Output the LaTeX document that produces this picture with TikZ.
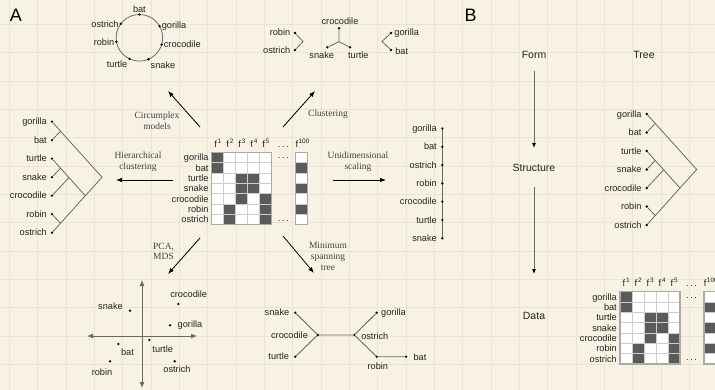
\documentclass[tikz,border=0pt]{standalone}
\usepackage{fontspec}
\setmainfont{Liberation Sans}
\newfontfamily\notefont{Liberation Serif}
\usetikzlibrary{arrows.meta,backgrounds}
\definecolor{paper}{RGB}{248,242,229}
\definecolor{paperrule}{RGB}{236,228,211}
\definecolor{ink}{RGB}{35,35,35}
\definecolor{twig}{RGB}{105,105,105}
\definecolor{cellfill}{RGB}{90,90,90}
\definecolor{cellline}{RGB}{205,205,205}
\definecolor{cellframe}{RGB}{170,170,170}
\begin{document}
\begin{tikzpicture}[x=1pt,y=-1pt,
  lab/.style={font=\fontsize{9.2}{11}\selectfont,text=ink,inner sep=1pt},
  head/.style={font=\fontsize{10.5}{12}\selectfont,text=ink,inner sep=1pt},
  panel/.style={font=\fontsize{18}{20}\selectfont,text=black,inner sep=0pt},
  note/.style={font=\notefont\fontsize{9.5}{10.6}\selectfont,text=ink!85,align=center,inner sep=0pt},
  dot/.style={circle,fill=black,inner sep=0pt,minimum size=2.6pt},
  twig/.style={draw=twig,line width=0.8pt},
  arr/.style={-{Latex[length=6pt,width=4.5pt]},line width=0.8pt},
  axis/.style={{Latex[length=6pt,width=5pt]}-{Latex[length=6pt,width=5pt]},draw=twig,line width=1pt},
  flow/.style={-{Latex[length=5pt,width=4pt,color=black]},draw=twig,line width=1pt},
  featmat/.pic={
    \fill[white] (0,0) rectangle (60,72.45) (84,0) rectangle (96,72.45);
    \foreach \r/\cs in {0/{0},1/{0},2/{2,3},3/{2,3},4/{2,4},5/{1,4},6/{1,4}}
      \foreach \c in \cs \fill[cellfill] (\c*12,\r*10.35) rectangle ++(12,10.35);
    \foreach \r in {1,3,5} \fill[cellfill] (84,\r*10.35) rectangle ++(12,10.35);
    \foreach \i in {1,...,4} \draw[cellline,line width=0.9pt] (\i*12,0) -- (\i*12,72.45);
    \foreach \j in {1,...,6} \draw[cellline,line width=0.9pt] (0,\j*10.35) -- (60,\j*10.35) (84,\j*10.35) -- (96,\j*10.35);
    \draw[cellframe,line width=1.4pt] (0,0) rectangle (60,72.45) (84,0) rectangle (96,72.45);
    \foreach \n [count=\r from 0] in {gorilla,bat,turtle,snake,crocodile,robin,ostrich}
      \node[lab,anchor=base east] (-\n) at (-2,\r*10.35+8.4) {\n};
    \foreach \c in {1,...,5} \node[lab,anchor=base] (-f\c) at (\c*12-5.5,-5) {f\kern0.9pt\textsuperscript{\c}};
    \node[lab,anchor=base] (-f100) at (91,-5) {f\kern0.6pt\textsuperscript{100}};
    \node[lab,anchor=base] (-fdots) at (71.6,-5) {.\,.\,.};
    \node[lab,anchor=base] (-tdots) at (71.6,6.7) {.\,.\,.};
    \node[lab,anchor=base] (-bdots) at (71.6,68.8) {.\,.\,.};
  },
  hiertree/.pic={
    \foreach \n [count=\i from 0] in {gorilla,bat,turtle,snake,crocodile,robin,ostrich}{
      \node[dot] (-\n) at (0,\i*18.5) {};
      \node[lab,anchor=base east] (-\n-t) at (-4,\i*18.5+3.2) {\n};
    }
    \coordinate (-root) at (50,55.5);
    \coordinate (-j1) at (8.5,9.4);
    \coordinate (-j2) at (8.5,46.4);
    \coordinate (-j3) at (17,55.9);
    \coordinate (-j4) at (33.3,74);
    \coordinate (-j5) at (8.5,101.6);
    \draw[twig] (-gorilla) -- (-root) -- (-ostrich);
    \draw[twig] (-bat) -- (-j1) (-turtle) -- (-j4) (-snake) -- (-j2) (-crocodile) -- (-j3) (-robin) -- (-j5);
  }]
\useasboundingbox (0,0) rectangle (715,390);
\clip (0,0) rectangle (715,390);
\begin{scope}[on background layer]
  \fill[paper] (0,0) rectangle (715,390);
  \foreach \i in {0,...,25} \draw[paperrule,line width=0.5pt] (9.3+\i*28.33,0) -- ++(0,390);
  \foreach \j in {0,...,13} \draw[paperrule,line width=0.5pt] (0,24.3+\j*28.33) -- ++(715,0);
\end{scope}

\node[panel] (pa) at (16,15.7) {A};
\node[panel] (pb) at (470.5,15.5) {B};

\pic (ma) at (211.7,152.3) {featmat};
\pic (mb) at (620,291.7) {featmat};
\pic (ta) at (52,121.7) {hiertree};
\pic (tb) at (646.7,114) {hiertree};

\node[circle,draw=twig,line width=0.8pt,minimum size=46.6pt,inner sep=0pt,outer sep=0pt] (ring) at (139.4,37.8) {};
\foreach \a/\n/\an in {90/bat/south,30/gorilla/west,-17/crocodile/west,-67/snake/north west,-115/turtle/north east,190/robin/east,143/ostrich/east}{
  \node[dot] (c-\n) at (ring.\a) {};
  \node[lab,anchor=\an,inner sep=2pt] (c-\n-t) at (c-\n) {\n};
}

\foreach \n/\dx/\dy/\lx/\ly in {robin/295/33/280/35.2,ostrich/295/50/276.7/53.2,crocodile/339/28.3/340/25,snake/327.3/47.3/321.7/59,turtle/350/47.3/358.3/59,gorilla/391/33/406.7/35.2,bat/391/50/401.7/54.2}{
  \node[dot] (k-\n) at (\dx,\dy) {};
  \node[lab,anchor=base] (k-\n-t) at (\lx,\ly) {\n};
}
\coordinate (k-ro) at (303,41.5);
\coordinate (k-mid) at (339,41.7);
\coordinate (k-gb) at (382,41.5);
\draw[twig] (k-robin) -- (k-ro) -- (k-ostrich);
\draw[twig] (k-crocodile) -- (k-mid) (k-snake) -- (k-mid) -- (k-turtle);
\draw[twig] (k-gorilla) -- (k-gb) -- (k-bat);

\foreach \n [count=\i from 0] in {gorilla,bat,ostrich,robin,crocodile,turtle,snake}{
  \node[dot] (u-\n) at (442.3,128.5+\i*18.3) {};
  \node[lab,anchor=base east] (u-\n-t) at (438,131.7+\i*18.3) {\n};
}
\begin{scope}[on background layer]
  \draw[twig,line width=1pt] (u-gorilla.center) -- (u-snake.center);
\end{scope}

\coordinate (p-w) at (87,336);
\coordinate (p-e) at (197,336);
\coordinate (p-n) at (142,280);
\coordinate (p-s) at (142,388);
\draw[axis] (p-w) -- (p-e);
\draw[axis] (p-n) -- (p-s);
\foreach \n/\dx/\dy/\lx/\ly in {snake/130/310.7/110.5/309,crocodile/178.3/304/188.7/298,gorilla/170/325.3/190/327,bat/118.3/344/127.5/355,turtle/149.3/340/162.7/352,robin/110/361.3/102/375,ostrich/174.7/361.3/177/372.5}{
  \node[dot] (p-\n) at (\dx,\dy) {};
  \node[lab,anchor=base] (p-\n-t) at (\lx,\ly) {\n};
}

\foreach \n/\dx/\dy/\lx/\ly in {snake/295.3/312.7/277/315.3,crocodile/317.7/335/289.5/338,turtle/295.3/356.7/278.7/359.7,ostrich/354.3/335/374.8/339,gorilla/376.7/312.7/393.5/315,robin/376.7/356.7/377.8/369,bat/406/356.7/420/360}{
  \node[dot] (s-\n) at (\dx,\dy) {};
  \node[lab,anchor=base] (s-\n-t) at (\lx,\ly) {\n};
}
\draw[twig,line width=0.9pt] (s-snake) -- (s-crocodile) -- (s-turtle);
\draw[twig,line width=0.9pt] (s-crocodile) -- (s-ostrich) -- (s-gorilla);
\draw[twig,line width=0.9pt] (s-ostrich) -- (s-robin) -- (s-bat);

\coordinate (a-circ0) at (200,127);
\coordinate (a-circ1) at (168,91);
\coordinate (a-clus0) at (283,127);
\coordinate (a-clus1) at (315,91);
\coordinate (a-hier0) at (173,180);
\coordinate (a-hier1) at (116,180);
\coordinate (a-uni0) at (333,180);
\coordinate (a-uni1) at (386,180);
\coordinate (a-pca0) at (200,238);
\coordinate (a-pca1) at (168,274);
\coordinate (a-mst0) at (283,236);
\coordinate (a-mst1) at (314,273);
\foreach \k in {circ,clus,hier,uni,pca,mst}
  \draw[arr] (a-\k0) -- (a-\k1);

\node[note] (n-circ) at (157,120.5) {Circumplex\\models};
\node[note] (n-clus) at (328,114) {Clustering};
\node[note] (n-hier) at (138,161.5) {Hierarchical\\clustering};
\node[note] (n-uni) at (358,161.5) {Unidimensional\\scaling};
\node[note,align=left,anchor=west] (n-pca) at (153,251.5) {PCA,\\MDS};
\node[note] (n-mst) at (328,256.5) {Minimum\\spanning\\tree};

\node[head] (form) at (534,55) {Form};
\node[head] (tree) at (644,55) {Tree};
\node[head] (struct) at (534,168) {Structure};
\node[head] (data) at (534,316) {Data};
\draw[flow,shorten <=11pt,shorten >=15pt] (form) -- (struct);
\draw[flow,shorten <=14pt,shorten >=37pt] (struct) -- (data);
\end{tikzpicture}
\end{document}
